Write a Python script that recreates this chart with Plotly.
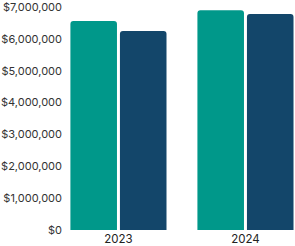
import plotly.graph_objects as go

years = ["2023", "2024"]
series_a = [6560000, 6900000]
series_b = [6250000, 6780000]
tick_vals = [0, 1000000, 2000000, 3000000, 4000000, 5000000, 6000000, 7000000]
tick_text = ["$0", "$1,000,000", "$2,000,000", "$3,000,000", "$4,000,000",
             "$5,000,000", "$6,000,000", "$7,000,000"]

fig = go.Figure()
fig.add_trace(go.Bar(x=[0, 1], y=series_a, marker=dict(color="#00988A", cornerradius=3),
                     marker_line_width=0))
fig.add_trace(go.Bar(x=[0, 1], y=series_b, marker=dict(color="#13466A", cornerradius=3),
                     marker_line_width=0))

fig.update_layout(
    width=295, height=246,
    margin=dict(l=66, r=0, t=7, b=16, autoexpand=False),
    barmode="group", bargap=0.22, bargroupgap=0.06,
    showlegend=False,
    plot_bgcolor="white", paper_bgcolor="white",
    font=dict(family="Inter", size=11, color="#333333"),
)
fig.update_xaxes(range=[-0.413, 1.39], tickvals=[0, 1], ticktext=years,
                 showgrid=False, zeroline=False, showline=False, ticks="",
                 automargin=False, ticklabeloverflow="allow",
                 tickfont=dict(size=11.5, color="#222222"))
fig.update_yaxes(range=[0, 7002000], tickvals=tick_vals, ticktext=tick_text,
                 showgrid=False, zeroline=False, showline=False, ticks="",
                 automargin=False, ticklabelstandoff=3, ticklabeloverflow="allow",
                 tickfont=dict(size=11, color="#333333"))

fig.write_html("out.html")
